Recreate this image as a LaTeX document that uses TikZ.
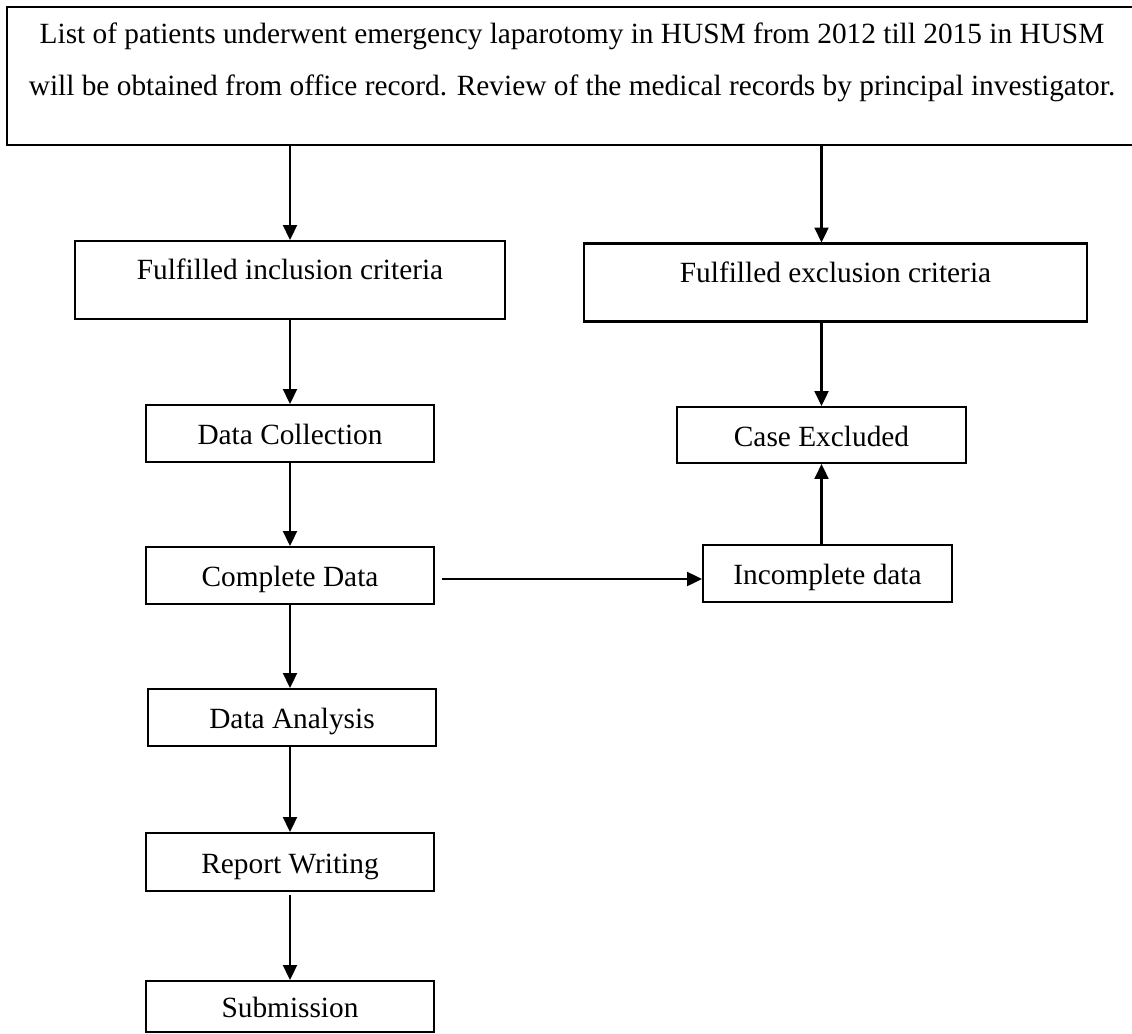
\documentclass[tikz,border=0pt]{standalone}
\usepackage{fontspec}
\setmainfont{Liberation Serif}
\usetikzlibrary{positioning,calc,arrows.meta}

\begin{document}
\begin{tikzpicture}[
    x=0.02cm, y=-0.02cm,
    stepbox/.style={rectangle, draw=black, line width=1.2pt, inner sep=0pt, minimum width=#1, minimum height=1.14cm,
        text height=0.5cm, text depth=0.05cm, font=\fontsize{16.7}{20}\selectfont},
    stepbox/.default={5.76cm},
    critbox/.style={stepbox=#1, minimum height=1.56cm, text height=0.775cm, text depth=0.785cm},
    arr/.style={-{Triangle[length=8.5pt, width=8pt]}, line width=1.2pt},
    ]
    \useasboundingbox (0,0) rectangle (1132,1034);

    %% source of the records
    \node[rectangle, draw=black, line width=1.2pt, minimum width=22.6cm, minimum height=2.76cm] (listbox) at (572,76) {};
    \node[anchor=north, inner sep=0pt, align=center, font=\fontsize{16.7}{29.6}\selectfont] (listtext) at ([yshift=-0.33cm]listbox.north) {
        List of patients underwent emergency laparotomy in HUSM from 2012 till 2015 in HUSM\\
        will be obtained from office record. Review of the medical records by principal investigator.
    };

    %% criteria
    \node[critbox=8.6cm]   (incl) at (290,280)   {Fulfilled inclusion criteria};
    \node[critbox=10.06cm] (excl) at (835.5,282.5) {Fulfilled exclusion criteria};

    %% study steps
    \node[stepbox] (datacoll) at (290,433.5) {Data Collection};
    \node[stepbox] (complete) at (290,575.5) {Complete Data};
    \node[stepbox] (analysis) at (292,717.5) {Data Analysis};
    \node[stepbox, minimum height=1.16cm] (report) at (290,862)  {Report Writing};
    \node[stepbox, minimum height=1.02cm] (submit) at (290,1006.5) {Submission};

    %% excluded cases
    \node[stepbox=5.78cm, minimum height=1.12cm] (caseexcl) at (821.5,435) {Case Excluded};
    \node[stepbox=4.98cm] (incomplete) at (827.5,573.5) {Incomplete data};

    % arrows from the record list
    \draw[arr] (listbox.south -| incl.north) -- (incl.north);
    \draw[arr] (listbox.south -| caseexcl.north) -- (excl.north -| caseexcl.north);
    % left column arrows
    \draw[arr] (incl.south) -- (datacoll.north);
    \draw[arr] (datacoll.south) -- (complete.north);
    \draw[arr] (complete.south) -- (complete.south |- analysis.north);
    \draw[arr] (report.north |- analysis.south) -- (report.north);
    \draw[arr] ([yshift=-0.06cm]report.south) -- (submit.north);
    % right column arrows
    \draw[arr] (excl.south -| caseexcl.north) -- (caseexcl.north);
    \draw[arr] ($(complete.east)+(7,3.5)$) -- ($(complete.east -| incomplete.west)+(0,3.5)$);
    \draw[arr] (incomplete.north -| caseexcl.south) -- (caseexcl.south);

\end{tikzpicture}
\end{document}
